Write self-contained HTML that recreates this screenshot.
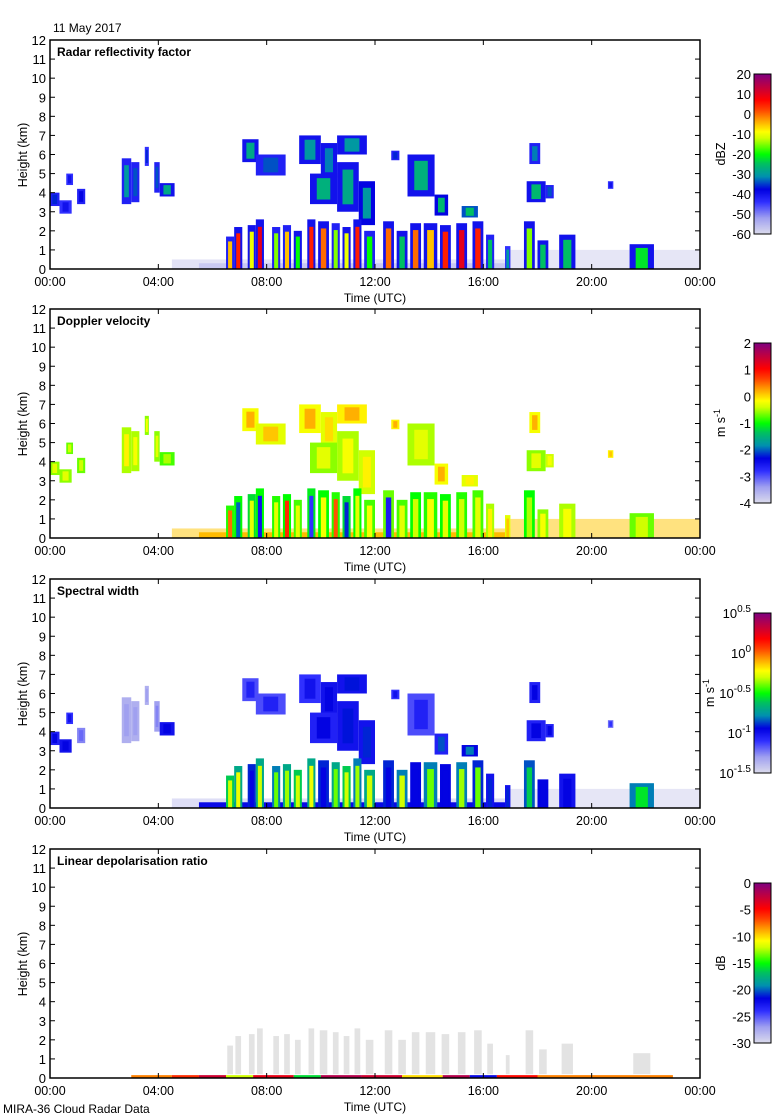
<!DOCTYPE html>
<html><head><meta charset="utf-8"><title>MIRA-36 Cloud Radar Data</title>
<style>
html,body{margin:0;padding:0;background:#fff;}
svg{display:block;font-family:"Liberation Sans",sans-serif;}
</style></head>
<body>
<svg id="fig" width="780" height="1120" viewBox="0 0 780 1120" xmlns="http://www.w3.org/2000/svg">
<text x="53" y="32" font-size="12">11 May 2017</text>
<text x="3" y="1113" font-size="12">MIRA-36 Cloud Radar Data</text>
</svg>
<script>
// ---- shared geometry (hours, km) ----
const upperStart=[0,0.35,0.6,1.0,2.65,3.0,3.5,3.85,4.05,7.1,7.6,9.2,10.0,10.6,9.6,10.6,11.4,12.6,13.2,14.2,15.2,17.7,17.6,18.3,20.6];
const upperEnd=[0.35,0.8,0.85,1.3,3.0,3.3,3.65,4.05,4.6,7.7,8.7,10.0,10.6,11.7,10.6,11.4,12.0,12.9,14.2,14.7,15.8,18.1,18.3,18.6,20.8];
const upperBase=[3.3,2.9,4.4,3.4,3.4,3.5,5.4,4.0,3.8,5.6,4.9,5.5,4.8,6.0,3.4,3.0,2.3,5.7,3.8,2.8,2.7,5.5,3.5,3.7,4.2];
const upperTop=[4.0,3.6,5.0,4.2,5.8,5.6,6.4,5.6,4.5,6.8,6.0,7.0,6.6,7.0,5.0,5.6,4.6,6.2,6.0,3.9,3.3,6.6,4.6,4.4,4.6];
const colStart=[6.5,6.8,7.3,7.6,8.2,8.6,9.0,9.5,9.9,10.4,10.8,11.2,11.6,12.3,12.8,13.3,13.8,14.4,15.0,15.6,16.1,16.8,17.5,18.0,18.8,21.4];
const colEnd=[6.8,7.1,7.6,7.9,8.5,8.9,9.3,9.8,10.3,10.7,11.1,11.5,12.0,12.7,13.2,13.7,14.3,14.8,15.4,16.0,16.4,17.0,17.9,18.4,19.4,22.3];
const colTop=[1.7,2.2,2.3,2.6,2.2,2.3,2.0,2.6,2.5,2.4,2.2,2.6,2.0,2.5,2.0,2.4,2.4,2.3,2.4,2.5,1.8,1.2,2.5,1.5,1.8,1.3];
const layerStart=[4.5,5.5,17.0];
const layerEnd=[17.0,16.8,24.0];
const layerBase=[0,0,0];
const layerTop=[0.5,0.3,1.0];
// ---- reflectivity (dBZ) ----
const zUpperEdge=[-42,-44,-44,-42,-42,-42,-44,-42,-40,-40,-42,-40,-40,-40,-40,-40,-38,-42,-40,-38,-34,-42,-40,-42,-44];
const zUpperCore=[-36,-40,-40,-38,-30,-34,-36,-34,-28,-28,-34,-30,-32,-30,-27,-28,-30,-36,-27,-26,-25,-32,-26,-34,-40];
const zColEdge=[-42,-40,-40,-40,-42,-42,-40,-40,-40,-42,-40,-40,-42,-40,-40,-40,-40,-40,-40,-40,-42,-44,-40,-40,-40,-40];
const zColCore=[-5,5,-10,10,-15,-5,-20,5,0,-15,-10,5,-20,0,-25,0,-5,5,10,5,-25,-30,-15,-25,-25,-22];
const zLayer=[-57,-54,-58];
// ---- Doppler velocity (m/s) ----
const vUpperEdge=[-0.6,-0.6,-0.7,-0.7,-0.5,-0.5,-0.6,-0.6,-0.8,-0.2,-0.3,-0.2,-0.3,-0.1,-0.6,-0.5,-0.4,-0.1,-0.5,-0.2,-0.3,-0.2,-0.6,-0.4,-0.1];
const vUpperCore=[-0.3,-0.3,-0.4,-0.4,-0.1,-0.2,-0.2,-0.3,-0.5,0.2,0.1,0.2,0.0,0.2,-0.3,-0.2,-0.1,0.2,-0.3,0.2,-0.1,0.2,-0.3,-0.2,0.1];
const vColEdge=[-0.9,-1.0,-1.2,-1.0,-0.9,-1.0,-0.8,-1.1,-1.0,-0.9,-1.2,-1.0,-0.8,-0.7,-0.8,-1.0,-0.9,-1.0,-0.9,-0.8,-0.5,-0.3,-1.0,-0.6,-0.5,-0.7];
const vColCore=[0.5,-2.0,-0.3,-2.5,-0.3,0.8,-0.3,-2.8,-0.2,0.6,-2.2,-0.3,-0.2,-2.6,-0.3,-0.4,-0.2,-0.3,-0.4,-0.3,-0.1,0.1,-0.5,-0.2,-0.2,-0.4];
const vLayer=[0.1,0.15,0.1];
// ---- spectral width (log10 m/s) ----
const wUpperEdge=[-1.05,-1.0,-1.1,-1.25,-1.35,-1.35,-1.35,-1.3,-1.0,-1.15,-1.15,-1.1,-1.0,-1.0,-1.05,-1.0,-1.0,-1.1,-1.15,-1.05,-0.95,-1.05,-1.05,-1.05,-1.2];
const wUpperCore=[-0.95,-0.95,-1.0,-1.2,-1.3,-1.3,-1.3,-1.25,-0.95,-1.05,-1.05,-1.0,-0.95,-0.92,-0.95,-0.92,-0.9,-1.0,-1.05,-0.85,-0.8,-0.95,-0.95,-0.95,-1.1];
const wColEdge=[-0.6,-0.7,-0.9,-0.7,-0.8,-0.7,-0.6,-0.7,-0.9,-0.7,-0.6,-0.8,-0.7,-0.9,-0.8,-0.95,-0.8,-0.95,-0.8,-0.9,-1.0,-1.0,-0.85,-0.95,-1.0,-0.8];
const wColCore=[-0.3,-0.25,-0.95,-0.3,-0.4,-0.35,-0.3,-0.25,-0.95,-0.4,-0.3,-0.35,-0.3,-0.95,-0.3,-0.95,-0.4,-0.95,-0.35,-0.4,-0.9,-0.9,-0.6,-0.95,-0.95,-0.55];
const wLayer=[-1.4,-0.97,-1.45];
// ---- LDR (dB): grey columns = no LDR ----
const ldrStripStart=[3.0,4.5,5.5,6.5,7.5,9.0,10.0,11.5,13.0,14.5,15.5,16.5,18.0];
const ldrStripEnd=[4.5,5.5,6.5,7.5,9.0,10.0,11.5,13.0,14.5,15.5,16.5,18.0,23.0];
const ldrStripValue=[-8,-6,-3,-12,-4,-16,-2,-3,-10,-2,-22,-5,-8];
// ---- colour bar ticks ----
const zTicks=[20,10,0,-10,-20,-30,-40,-50,-60];
const vTicks=[2,1,0,-1,-2,-3,-4];
const wTicks=[0.5,0,-0.5,-1,-1.5];
const ldrTicks=[0,-5,-10,-15,-20,-25,-30];
const timeTicks=["00:00","04:00","08:00","12:00","16:00","20:00","00:00"];
const heightTicks=[0,1,2,3,4,5,6,7,8,9,10,11,12];

const NS="http://www.w3.org/2000/svg";
const svg=document.getElementById('fig');
const stops=[[0,[220,220,236]],[0.1,[160,160,240]],[0.2,[48,48,255]],[0.28,[0,0,224]],[0.36,[0,144,176]],[0.44,[0,192,96]],[0.5,[0,255,0]],[0.6,[208,255,0]],[0.64,[255,255,0]],[0.7,[255,176,0]],[0.78,[255,64,0]],[0.84,[255,0,0]],[0.92,[192,0,64]],[1,[128,0,128]]];
function cmap(t){t=Math.max(0,Math.min(1,t));for(let i=1;i<stops.length;i++){if(t<=stops[i][0]){const a=stops[i-1],b=stops[i];const f=(t-a[0])/(b[0]-a[0]);const c=a[1].map((v,k)=>Math.round(v+(b[1][k]-v)*f));return 'rgb('+c.join(',')+')';}}return 'rgb(128,0,128)';}
function mk(tag,attrs,parent){const e=document.createElementNS(NS,tag);for(const k in attrs)e.setAttribute(k,attrs[k]);(parent||svg).appendChild(e);return e;}
const X0=50,X1=700;
function xs(h){return X0+h/24*(X1-X0);}

const panels=[
 {top:40,title:"Radar reflectivity factor",unit:"dBZ",min:-60,max:20,ticks:zTicks,ue:zUpperEdge,uc:zUpperCore,ce:zColEdge,cc:zColCore,lv:zLayer,name:"reflectivity"},
 {top:309,title:"Doppler velocity",unit:"m s-1",min:-4,max:2,ticks:vTicks,ue:vUpperEdge,uc:vUpperCore,ce:vColEdge,cc:vColCore,lv:vLayer,name:"velocity"},
 {top:579,title:"Spectral width",unit:"m s-1",min:-1.5,max:0.5,ticks:wTicks,ue:wUpperEdge,uc:wUpperCore,ce:wColEdge,cc:wColCore,lv:wLayer,name:"spectral-width",log:true},
 {top:849,title:"Linear depolarisation ratio",unit:"dB",min:-30,max:0,ticks:ldrTicks,name:"ldr",ldr:true}
];

panels.forEach(p=>{
 const T=p.top,B=T+229;
 const ys=km=>B-km/12*(B-T);
 const col=v=>cmap((v-p.min)/(p.max-p.min));
 const g=mk('g',{});
 
 
 function blob(t0,t1,z0,z1,edge,core,insetBottom,op){
  const r=mk('rect',{x:xs(t0),y:ys(z1),width:xs(t1)-xs(t0),height:ys(z0)-ys(z1),fill:edge===null?'#dcdcdc':col(edge),'fill-opacity':op||1},g);
  
  
  if(core!==null&&core!==undefined){
   const w=t1-t0,hgt=z1-z0;
   const c=mk('rect',{x:xs(t0+w*0.25),y:ys(z1-hgt*0.15),width:xs(t1-w*0.25)-xs(t0+w*0.25),height:ys(insetBottom?z0:z0+hgt*0.15)-ys(z1-hgt*0.15),fill:col(core)},g);
   
   
  }
 }
 if(!p.ldr){
  layerStart.forEach((s,i)=>blob(s,layerEnd[i],layerBase[i],layerTop[i],p.lv[i],null,false,(i===1&&p.name!=='reflectivity')?1:0.5));
  upperStart.forEach((s,i)=>blob(s,upperEnd[i],upperBase[i],upperTop[i],p.ue[i],p.uc[i],false));
  colStart.forEach((s,i)=>blob(s,colEnd[i],0,colTop[i],p.ce[i],p.cc[i],true));
 } else {
  colStart.forEach((s,i)=>{const w=colEnd[i]-s;blob(s+w*0.15,colEnd[i]-w*0.15,0.2,colTop[i],null,null,false,0.8);});
  ldrStripStart.forEach((s,i)=>blob(s,ldrStripEnd[i],0,0.15,ldrStripValue[i],null));
 }
 const fr=mk('rect',{x:X0,y:T,width:X1-X0,height:B-T,fill:'none',stroke:'#000','stroke-width':1.5});
 
 
 const tt=mk('text',{x:57,y:T+16,'font-size':12,'font-weight':'bold'});tt.textContent=p.title;
 
 
 heightTicks.forEach(k=>{
  const y=ys(k);
  mk('line',{x1:X0,x2:X0+5,y1:y,y2:y,stroke:'#000'});
  mk('line',{x1:X1-5,x2:X1,y1:y,y2:y,stroke:'#000'});
  const t=mk('text',{x:46,y:y+5,'font-size':13,'text-anchor':'end'});t.textContent=k;
  
  
 });
 timeTicks.forEach((lab,i)=>{
  const x=xs(i*4);
  mk('line',{x1:x,x2:x,y1:B-5,y2:B,stroke:'#000'});
  mk('line',{x1:x,x2:x,y1:T,y2:T+5,stroke:'#000'});
  const t=mk('text',{x:x,y:B+17,'font-size':12.5,'text-anchor':'middle'});t.textContent=lab;
  
  
 });
 const xt=mk('text',{x:375,y:B+33,'font-size':12,'text-anchor':'middle'});xt.textContent="Time (UTC)";
 
 
 const yt=mk('text',{x:0,y:0,'font-size':12.5,'text-anchor':'middle',transform:'translate(27,'+(T+115)+') rotate(-90)'});yt.textContent="Height (km)";
 
 
 const CT=T+34,CB=CT+160,CX=754,CW=17;
 for(let i=0;i<160;i++){mk('rect',{x:CX,y:CB-i-1,width:CW,height:1.2,fill:cmap((i+0.5)/160)});}
 const cf=mk('rect',{x:CX,y:CT,width:CW,height:160,fill:'none',stroke:'#000'});
 
 
 p.ticks.forEach(v=>{
  const y=CB-(v-p.min)/(p.max-p.min)*160;
  const t=mk('text',{x:751,y:y+5,'font-size':13,'text-anchor':'end'});
  if(p.log){t.textContent='10';const s=mk('tspan',{dy:-6,'font-size':10},t);s.textContent=String(v);}
  else t.textContent=v;
  
  
 });
 const ux=p.log?714:725;
 const u=mk('text',{x:0,y:0,'font-size':12.5,'text-anchor':'middle',transform:'translate('+ux+','+(CT+80)+') rotate(-90)'});
 if(p.unit==="m s-1"){u.textContent='m s';const s=mk('tspan',{dy:-5,'font-size':9},u);s.textContent='-1';}
 else u.textContent=p.unit;
 
 
});
</script>
</body></html>
